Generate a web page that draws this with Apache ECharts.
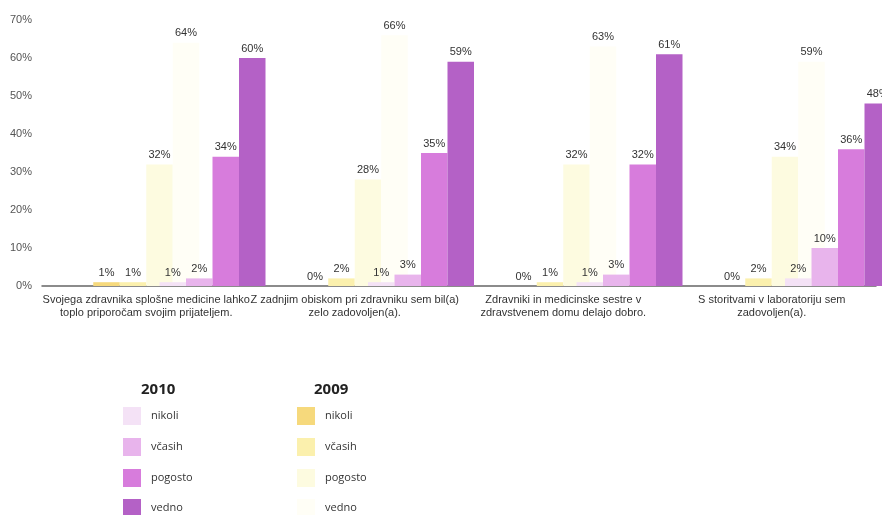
<!DOCTYPE html>
<html>
<head>
<meta charset="utf-8">
<script src="https://cdn.jsdelivr.net/npm/echarts@6/dist/echarts.min.js"></script>
<style>html,body{margin:0;padding:0;background:#fff}#c{width:882px;height:515px}</style>
</head>
<body>
<div id="c"></div>
<script>
var categories = [
  "Svojega zdravnika splošne medicine lahko\ntoplo priporočam svojim prijateljem.",
  "Z zadnjim obiskom pri zdravniku sem bil(a)\nzelo zadovoljen(a).",
  "Zdravniki in medicinske sestre v\nzdravstvenem domu delajo dobro.",
  "S storitvami v laboratoriju sem\nzadovoljen(a)."
];
var yTicks = [0, 10, 20, 30, 40, 50, 60, 70];
var levels = ["nikoli", "včasih", "pogosto", "vedno"];
var v2009_nikoli  = [1, 0, 0, 0];
var v2009_vcasih  = [1, 2, 1, 2];
var v2009_pogosto = [32, 28, 32, 34];
var v2009_vedno   = [64, 66, 63, 59];
var v2010_nikoli  = [1, 1, 1, 2];
var v2010_vcasih  = [2, 3, 3, 10];
var v2010_pogosto = [34, 35, 32, 36];
var v2010_vedno   = [60, 59, 61, 48];

var data2009 = [v2009_nikoli, v2009_vcasih, v2009_pogosto, v2009_vedno];
var data2010 = [v2010_nikoli, v2010_vcasih, v2010_pogosto, v2010_vedno];
var colors2009 = ["#f6d97c", "#fbf0ad", "#fdfbe0", "#fffef6"];
var colors2010 = ["#f4e2f6", "#e8b4ec", "#d77cdc", "#b461c6"];

var BW = 26.5;
var labelStyle = {show: true, position: "top", distance: 4, formatter: "{c}%",
  fontFamily: "Liberation Sans, Arial", fontSize: 11, color: "#333"};

var series = [];
levels.forEach(function (lv, i) {
  series.push({name: "2009 " + lv, type: "bar", xAxisIndex: 0, clip: false,
    data: data2009[i], barWidth: BW, barGap: "0%", itemStyle: {color: colors2009[i]},
    label: labelStyle, z: 2});
});
// invisible spacer series on the second category axis shift the 2010 group to the right
for (var k = 0; k < 5; k++) {
  series.push({name: "pad" + k, type: "bar", xAxisIndex: 1, data: [0, 0, 0, 0],
    barWidth: BW, barGap: "0%", silent: true, itemStyle: {color: "rgba(0,0,0,0)"},
    label: {show: false}, tooltip: {show: false}});
}
levels.forEach(function (lv, i) {
  series.push({name: "2010 " + lv, type: "bar", xAxisIndex: 1, clip: false,
    data: data2010[i], barWidth: BW, barGap: "0%", itemStyle: {color: colors2010[i]},
    label: labelStyle, z: 3});
});

var legendText = {fontFamily: "Open Sans", fontSize: 11, color: "#333", padding: [0, 0, 0, 5]};
var legendTops = [407, 438, 469, 499];
var legends = [];
levels.forEach(function (lv, i) {
  legends.push({data: ["2010 " + lv], left: 123, top: legendTops[i], padding: 0,
    itemWidth: 18, itemHeight: 18, icon: "rect", textStyle: legendText,
    formatter: function (n) { return n.split(" ")[1]; }});
  legends.push({data: ["2009 " + lv], left: 297, top: legendTops[i], padding: 0,
    itemWidth: 18, itemHeight: 18, icon: "rect", textStyle: legendText,
    formatter: function (n) { return n.split(" ")[1]; }});
});

var chart = echarts.init(document.getElementById("c"));
chart.setOption({
  animation: false,
  backgroundColor: "#fff",
  title: [
    {text: "2010", left: 136, top: 377, textStyle: {fontFamily: "Open Sans", fontSize: 15, fontWeight: "bold", color: "#222"}},
    {text: "2009", left: 309, top: 377, textStyle: {fontFamily: "Open Sans", fontSize: 15, fontWeight: "bold", color: "#222"}}
  ],
  legend: legends,
  grid: {left: 42, width: 834, top: 20, height: 266},
  xAxis: [
    {type: "category", data: categories,
      axisLine: {lineStyle: {color: "#666", width: 1.5}}, axisTick: {show: false},
      axisLabel: {interval: 0, margin: 7, fontFamily: "Liberation Sans, Arial", fontSize: 11, color: "#333", lineHeight: 13}},
    {type: "category", data: categories, show: false}
  ],
  yAxis: {type: "value", min: 0, max: 70, interval: 10,
    axisLine: {show: false}, axisTick: {show: false}, splitLine: {show: false},
    axisLabel: {formatter: "{value}%", margin: 10, fontFamily: "Liberation Sans, Arial", fontSize: 11, color: "#555"}},
  series: series
});
</script>
</body>
</html>
